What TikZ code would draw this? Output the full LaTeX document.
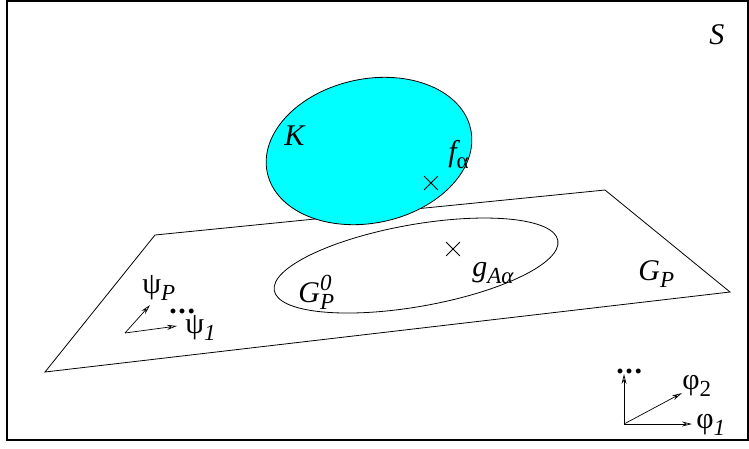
\documentclass[tikz,border=0pt]{standalone}
\usepackage{fontspec}
\setmainfont{Liberation Serif}
\usetikzlibrary{arrows.meta,shapes.misc}
\definecolor{kcyan}{RGB}{0,255,255}
\newcommand\mainsz{\fontsize{30}{30}\selectfont}
\newcommand\subsz{\fontsize{23}{23}\selectfont}
\newcommand\lsub[1]{\raisebox{-7pt}{\subsz #1}}
\newcommand\lsup[1]{\raisebox{12pt}{\subsz #1}}
\newcommand\tdots{\textbf{.\kern1.6pt.\kern1.6pt.}}
\begin{document}
\begin{tikzpicture}[x=1pt,y=-1pt,line width=0.8pt,
  lbl/.style={inner sep=0pt, anchor=base west, font=\mainsz},
  xmark/.style={cross out, draw, line width=0.8pt, minimum size=13pt, inner sep=0pt},
  vec/.style={-{Stealth[length=10pt,width=5pt,open]}, line width=0.7pt}]
\useasboundingbox (0,0) rectangle (749,448);
\draw[line width=1.2pt] (7,1) rectangle (748,440);
% plane G_P
\coordinate (p1) at (155,235);
\coordinate (p2) at (605,190);
\coordinate (p3) at (730,292);
\coordinate (p4) at (45,372);
\draw (p1) -- (p2) -- (p3) -- (p4) -- cycle;
% G_P^0 ellipse
\coordinate (g0) at (416,265.5);
\draw[rotate around={10:(g0)}] (g0) ellipse[x radius=144pt, y radius=41pt];
% K ellipse
\coordinate (kc) at (369,151);
\draw[fill=kcyan, rotate around={12:(kc)}] (kc) ellipse[x radius=104pt, y radius=72pt];
% crosses
\node[xmark] (fx) at (431,183) {};
\node[xmark] (gx) at (453,249) {};
% labels
\node[lbl] (S) at (709,44) {\itshape S};
\node[lbl] (K) at (284,145) {\itshape K};
\node[lbl] (f) at (448,161) {\itshape f\lsub{\upshape α}};
\node[lbl] (g) at (472,276) {\itshape g\lsub{Aα}};
\node[lbl] (G0) at (298,302) {\itshape G\rlap{\lsup{0}}\lsub{P}};
\node[lbl] (GP) at (638,280) {\itshape G\lsub{P}};
% psi vectors
\coordinate (po) at (125,333);
\coordinate (pP) at (150,305);
\coordinate (p1t) at (177,326);
\draw[vec] (po) -- (pP);
\draw[vec] (po) -- (p1t);
\node[lbl] (psiP) at (142,293) {ψ\lsub{\itshape P}};
\node[lbl] (pdots) at (169,313) {\tdots};
\node[lbl] (psi1) at (185,333) {ψ\lsub{\itshape 1}};
% phi vectors
\coordinate (fo) at (624,424);
\coordinate (fu) at (624,374);
\coordinate (f2) at (682,393);
\coordinate (f1) at (692,424);
\draw[vec] (fo) -- (fu);
\draw[vec] (fo) -- (f2);
\draw[vec] (fo) -- (f1);
\node[lbl] (fdots) at (616,373) {\tdots};
\node[lbl] (phi2) at (682,389) {φ\lsub{2}};
\node[lbl] (phi1) at (696,428) {φ\lsub{\itshape 1}};
\end{tikzpicture}
\end{document}
